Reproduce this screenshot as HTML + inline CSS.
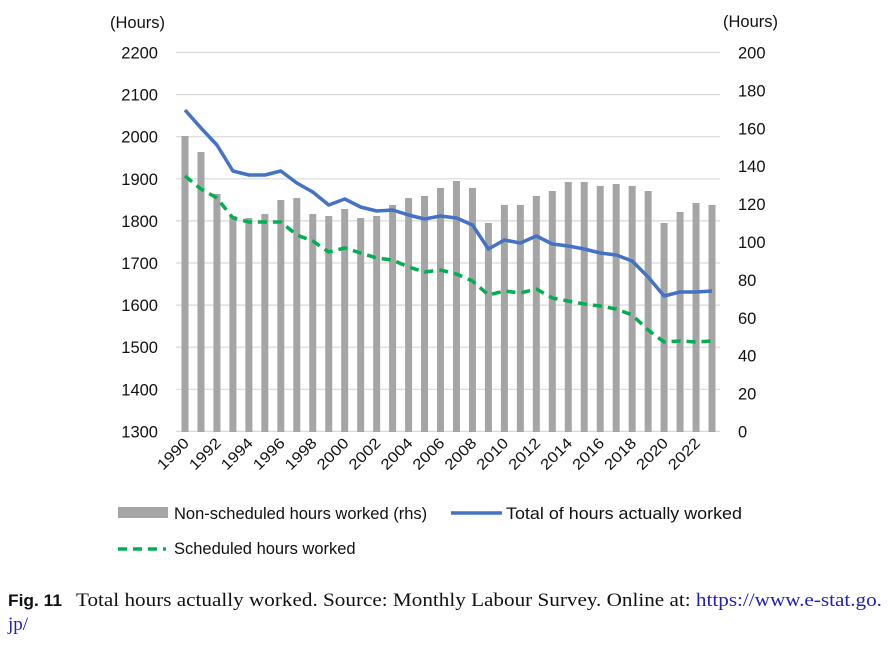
<!DOCTYPE html>
<html><head><meta charset="utf-8"><style>
body{margin:0;background:#fff;width:888px;height:646px;overflow:hidden;font-family:"Liberation Sans",sans-serif}
</style></head><body>
<svg id="s" width="888" height="646" xmlns="http://www.w3.org/2000/svg" font-family="Liberation Sans, sans-serif"></svg>
<script>
const s=document.getElementById('s');let h='';
const bars=[136,152,194,216,218,214,200,198,214,216,209,218,216,205,198,196,188,181,188,223,205,205,196,191,182,182,186,184,186,191,223,212,203,205];
const blue=[110,128,145,171,175,175,171,183,192,205,199,207,211,210,215,219,216,218,225,249,240,243,236,244,246,249,253,255,261,277,296,292,292,291];
const green=[176,189,198,218,222,222,222,235,241,252,248,253,258,260,267,272,270,274,281,295,291,293,289,298,301,304,306,309,315,330,342,341,342,341];
const X=i=>185+15.97*i;
for(let k=0;k<=9;k++){const y=52.5+k*42.1;h+=`<line x1="176" x2="720" y1="${y}" y2="${y}" stroke="#d9d9d9" stroke-width="1.2"/>`;
h+=`<text x="158" y="${y+6}" font-size="16.5" text-anchor="end" fill="#111">${2200-k*100}</text>`;}
for(let k=0;k<=10;k++){const y=52.5+k*37.9;h+=`<text x="738" y="${y+6}" font-size="16.5" fill="#111">${200-k*20}</text>`;}
h+=`<text x="110" y="28" font-size="16.5" fill="#111">(Hours)</text><text x="723" y="27" font-size="16.5" fill="#111">(Hours)</text>`;
bars.forEach((t,i)=>{h+=`<rect x="${X(i)-3.5}" y="${t}" width="7" height="${432-t}" fill="#a5a5a5"/>`});
h+=`<polyline points="${blue.map((y,i)=>X(i)+','+y).join(' ')}" fill="none" stroke="#4472c4" stroke-width="3.5" stroke-linejoin="round"/>`;
h+=`<polyline points="${green.map((y,i)=>X(i)+','+y).join(' ')}" fill="none" stroke="#00b050" stroke-width="3.5" stroke-dasharray="9,6"/>`;
for(let i=0;i<34;i+=2){const x=X(i)+5,y=444;h+=`<text transform="translate(${x},${y}) rotate(-45)" font-size="15" text-anchor="end" fill="#111" textLength="38" lengthAdjust="spacingAndGlyphs">${1990+i}</text>`;}
h+=`<rect x="118" y="507" width="50" height="11" fill="#a5a5a5"/><text x="174" y="519" font-size="16.5" fill="#111">Non-scheduled hours worked (rhs)</text>`;
h+=`<line x1="451" x2="502" y1="513" y2="513" stroke="#4472c4" stroke-width="3.5"/><text x="506" y="519" font-size="16.5" fill="#111" textLength="236" lengthAdjust="spacingAndGlyphs">Total of hours actually worked</text>`;
h+=`<line x1="118" x2="166" y1="549" y2="549" stroke="#00b050" stroke-width="3.5" stroke-dasharray="9,6"/><text x="174" y="554" font-size="16.5" fill="#111">Scheduled hours worked</text>`;
h+=`<text x="8" y="606" font-size="17" font-weight="bold" fill="#111" textLength="54" lengthAdjust="spacingAndGlyphs">Fig. 11</text><text x="76" y="606" font-size="19" font-family="Liberation Serif, serif" fill="#111" textLength="806" lengthAdjust="spacingAndGlyphs">Total hours actually worked.  Source: Monthly Labour Survey. Online at: <tspan fill="#1f1fb4">https://www.e-stat.go.</tspan></text>`;
h+=`<text x="8" y="630" font-size="19" font-family="Liberation Serif, serif" fill="#1f1fb4">jp/</text>`;
s.innerHTML=h;
</script>
</body></html>
